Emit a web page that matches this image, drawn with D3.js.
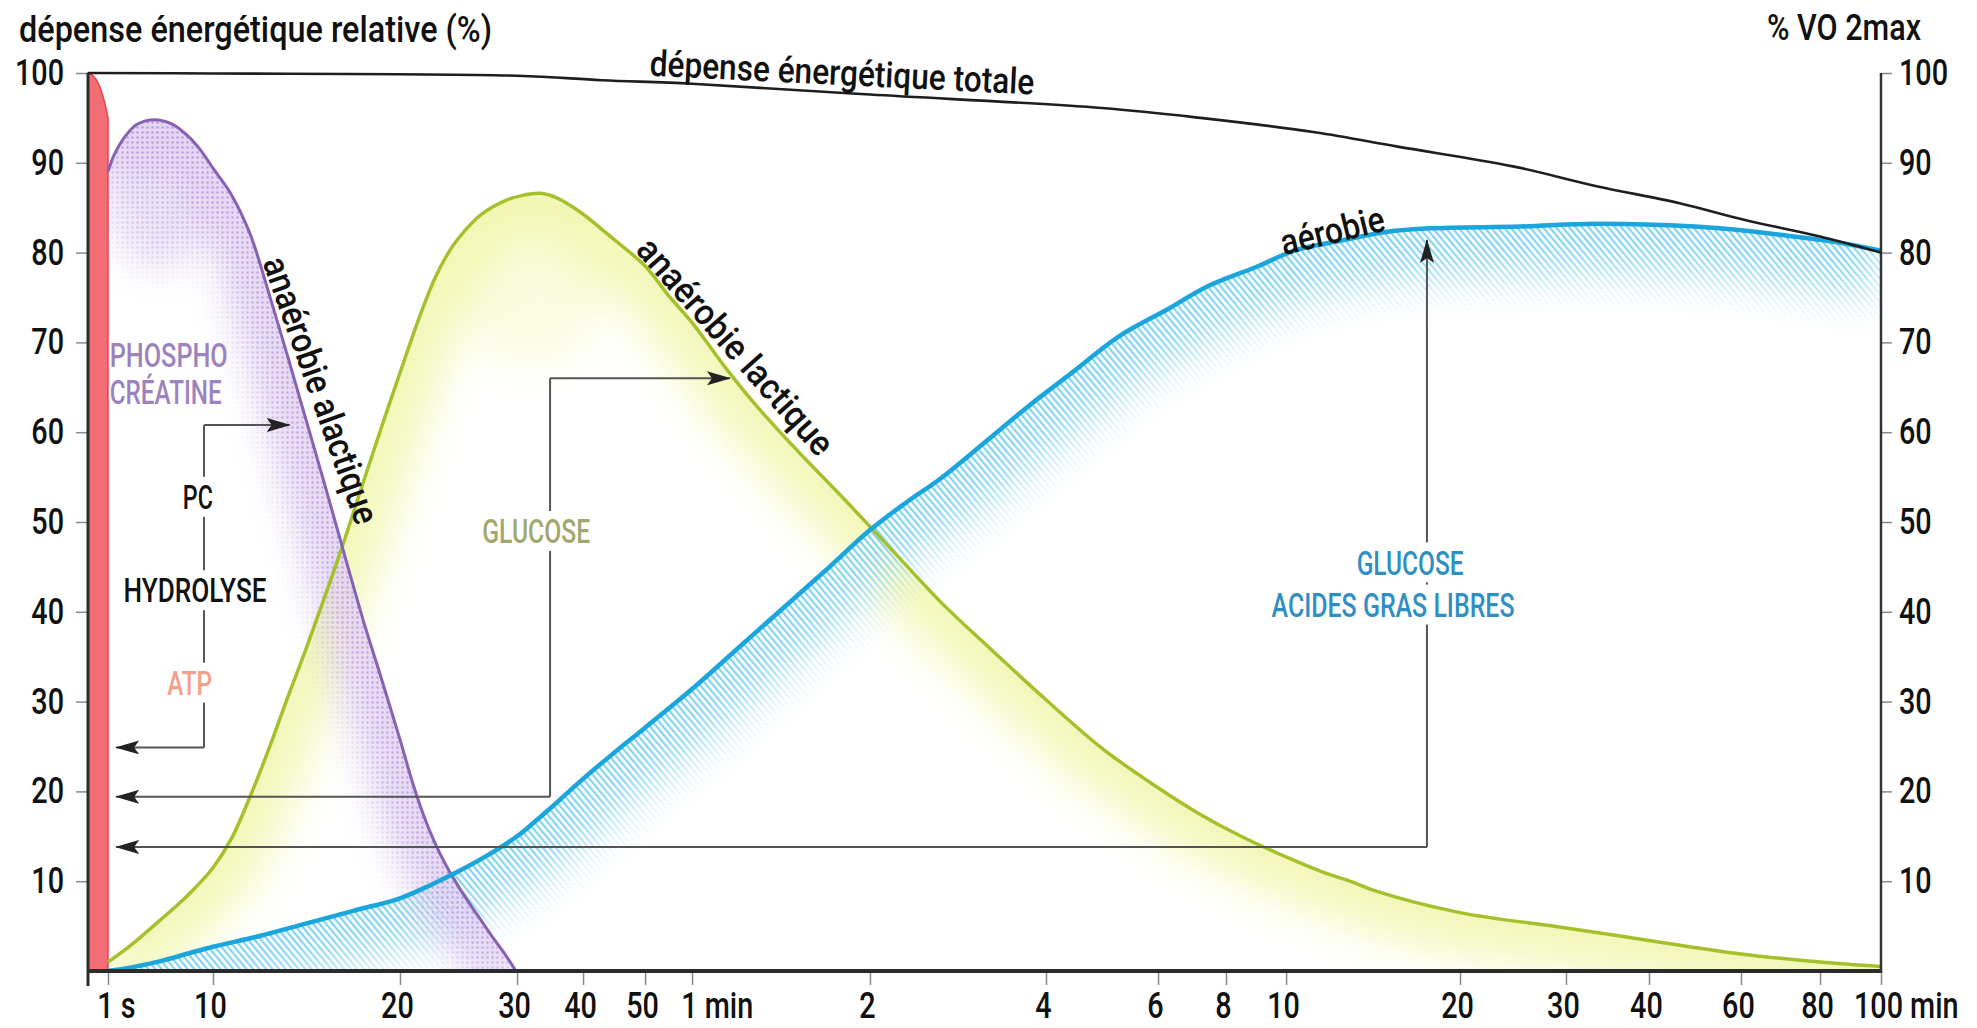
<!DOCTYPE html>
<html lang="fr">
<head>
<meta charset="utf-8">
<script src="https://cdn.jsdelivr.net/npm/d3@7/dist/d3.min.js"></script>
<style>
html,body{margin:0;padding:0;background:#fff;}
svg{display:block;}
text{font-family:Roboto,"DejaVu Sans",sans-serif;}
</style>
</head>
<body>
<svg id="chart" width="1977" height="1028"></svg>
<script>
// ---------------- data ----------------
// time axis (seconds) : break points of the non linear time scale
const timeBreaks = [0,1,10,20,30,40,50,60,120,240,360,480,600,1200,1800,2400,3600,4800,6000];
const timeTicks = [1,10,20,30,40,50,60,120,240,360,480,600,1200,1800,2400,3600,4800,6000];
const timeTickLabels = ["1","10","20","30","40","50","1","2","4","6","8","10","20","30","40","60","80","100"];
const timeTickUnits = ["s","","","","","","min","","","","","","","","","","","min"];
const leftTicks = [10,20,30,40,50,60,70,80,90,100];
const rightTicks = [10,20,30,40,50,60,70,80,90,100];

// [time (s), % of energy expenditure]
const atpSeries = [[0,100],[0.2,99.8],[0.4,99.3],[0.6,98.4],[0.8,97],[1,95]];
const pcSeries = [[1,89],[1.5,90.8],[2.5,93],[3.5,94.3],[5,94.8],[6.5,94.3],[8,92.8],[9,91.3],[10,89.4],[11,86.4],[12,82],[13,75.4],[14,68.4],[15,61.2],[16,54],[17,46.6],[18,39.3],[19,32.6],[20,25.8],[21,21.3],[22,17.4],[23,14.2],[24,11.6],[25,9.4],[26,7.4],[27,5.5],[28,3.6],[29,1.8],[29.9,0]];
const lactiqueSeries = [[1,1],[2.5,2.4],[4,4],[5.5,5.7],[7,7.4],[8.5,9.3],[10,11.5],[11,14.8],[12,19.5],[13,24.8],[14,30.5],[15,36],[16,41.8],[17,47.8],[18,54.2],[19,60.5],[20,66.6],[21,70.4],[22,74],[23,77.2],[24,79.7],[25,81.6],[27,84.3],[29,85.8],[31,86.4],[33.5,86.6],[36,86.1],[39.4,84.6],[44.4,81.8],[50,78.5],[55,75.2],[60,72.2],[71,67.3],[80,63.6],[90,59.9],[100,56.4],[110,53],[120,49.5],[140,46],[170,40.8],[200,36.2],[240,30.2],[300,24.8],[360,20.4],[430,17.6],[510,15],[600,12.7],[720,11.1],[830,9.9],[900,9],[1200,6.5],[1800,4.8],[2400,3.4],[3600,1.9],[4800,1.0],[6000,0.5]];
const aerobieSeries = [[1,0],[3,0.4],[5.5,1.1],[8,2],[10,2.7],[12.5,3.9],[15,5.3],[17.5,6.7],[20,8.1],[22.5,9.5],[25,11.1],[27.5,12.9],[30,15],[32.5,16.5],[35,18.1],[40,21.4],[45,24.3],[50,27.1],[60,31.4],[75,35.8],[90,40.2],[105,44.6],[120,49.1],[145,52.2],[167,54.7],[200,59.1],[228,62.9],[270,66.8],[317,70.6],[380,73.8],[446,76.2],[540,78.4],[636,80.3],[800,81.4],[944,82.3],[1097,82.7],[1537,82.9],[2020,83.2],[3000,82.9],[3600,82.5],[4400,81.8],[5200,81.1],[6000,80.2]];
const totaleSeries = [[0,100],[10,99.95],[30,99.7],[43,99.2],[60,98.8],[120,97.6],[300,96.1],[435,95],[700,93.4],[985,91.8],[1500,89.6],[2022,87.4],[2800,85.5],[3676,83.6],[4800,81.8],[6000,80]];

// annotation brackets : [x of vertical line (s), y top (%), top arrow tip (s) or null, y bottom (%), bottom arrow tip (s)]
const bracketPC = [9.23, 60.8, 14.1, 24.9, 1.7];
const bracketGlucose = [35, 66, 72.8, 19.4, 1.7];
const bracketAerobie = [1086, 81.4, null, 13.8, 1.7];

// texts
const curveLabels = [
  {text:"dépense énergétique totale", t:110.6, v:100.1, angle:2.8, w:385},
  {text:"anaérobie alactique", t:15.8, v:64.7, angle:70.5, w:281},
  {text:"anaérobie lactique", t:74.8, v:69.6, angle:48.5, w:277},
  {text:"aérobie", t:759, v:82.5, angle:-13.7, w:106}
];
const boxLabels = [
  {text:"PHOSPHO", t:1.15, v:68.6, anchor:"start", color:"#9d83bd", w:118},
  {text:"CRÉATINE", t:1.15, v:64.5, anchor:"start", color:"#9d83bd", w:112},
  {text:"PC", t:8.7, v:52.8, anchor:"middle", color:"#111", w:30, bg:true},
  {text:"HYDROLYSE", t:8.46, v:42.4, anchor:"middle", color:"#111", w:143, bg:true},
  {text:"ATP", t:8.0, v:32.1, anchor:"middle", color:"#f2a08c", w:45, bg:true},
  {text:"GLUCOSE", t:32.9, v:49, anchor:"middle", color:"#a2a770", w:108, bg:true},
  {text:"GLUCOSE", t:1028, v:45.5, anchor:"middle", color:"#2f8fc2", w:107, bg:true},
  {text:"ACIDES GRAS LIBRES", t:969, v:40.8, anchor:"middle", color:"#2f8fc2", w:243, bg:true}
];
const leftTitle = "dépense énergétique relative (%)";
const rightTitle = "% VO 2max";

// ---------------- layout ----------------
const W = 1977, H = 1028;
const frame = {left:88, right:1881, top:73, bottom:971};
const breakFrac = [0,0.01115,0.0697,0.1740,0.2393,0.2761,0.3107,0.3369,0.4361,0.5343,0.5968,0.6347,0.6682,0.7652,0.8243,0.8706,0.9219,0.9660,1];
const x = d3.scaleLinear().domain(timeBreaks).range(breakFrac.map(f => frame.left + f*(frame.right-frame.left)));
const y = d3.scaleLinear().domain([0,100]).range([frame.bottom, frame.top]);
const FS = 36;

const svg = d3.select("#chart");
const defs = svg.append("defs");

const smooth = d3.curveCatmullRom.alpha(0.5);
const lineGen = d3.line().x(d => x(d[0])).y(d => y(d[1])).curve(smooth);
const areaGen = d3.area().x(d => x(d[0])).y0(y(0)).y1(d => y(d[1])).curve(smooth);

function condense(sel, k){
  sel.each(function(){
    const L = this.getComputedTextLength();
    d3.select(this).attr("textLength", L*k).attr("lengthAdjust","spacingAndGlyphs");
  });
}

// patterns
const hatch = defs.append("pattern").attr("id","hatch").attr("patternUnits","userSpaceOnUse")
  .attr("width",5).attr("height",5).attr("patternTransform","rotate(-40)");
hatch.append("rect").attr("width",5).attr("height",5).attr("fill","#f2fbfe");
hatch.append("rect").attr("width",1.8).attr("height",5).attr("fill","#5cc5ee");

const dots = defs.append("pattern").attr("id","dots").attr("patternUnits","userSpaceOnUse")
  .attr("width",5).attr("height",5);
dots.append("rect").attr("width",5).attr("height",5).attr("fill","#e3d3f3");
dots.append("circle").attr("cx",2.5).attr("cy",2.5).attr("r",1.2).attr("fill","#b293da");

const plot = svg.append("g");

function bandFill(id, data, fill, bandWidth, blur, opacity, blob){
  defs.append("clipPath").attr("id","clip-"+id).append("path").attr("d", areaGen(data));
  const f = defs.append("filter").attr("id","blur-"+id).attr("filterUnits","userSpaceOnUse")
    .attr("x",0).attr("y",0).attr("width",W).attr("height",H);
  f.append("feGaussianBlur").attr("stdDeviation", blur);
  const m = defs.append("mask").attr("id","mask-"+id).attr("maskUnits","userSpaceOnUse")
    .attr("x",0).attr("y",0).attr("width",W).attr("height",H);
  const mg = m.append("g").attr("filter", `url(#blur-${id})`);
  mg.append("path").attr("d", lineGen(data)).attr("fill","none").attr("stroke","#fff")
    .attr("stroke-opacity", opacity).attr("stroke-width", bandWidth).attr("stroke-linejoin","round");
  if(blob){
    // extra glow under the peak of the curve
    const peak = d3.greatest(data, d => d[1]);
    mg.append("ellipse").attr("cx", x(peak[0]) + blob.dx).attr("cy", y(peak[1]) + blob.dy)
      .attr("rx", blob.rx).attr("ry", blob.ry).attr("fill","#fff").attr("fill-opacity", blob.o);
  }
  plot.append("g").attr("clip-path", `url(#clip-${id})`)
    .append("rect").attr("x",0).attr("y",0).attr("width",W).attr("height",H)
    .attr("fill", fill).attr("mask", `url(#mask-${id})`);
}

bandFill("green", lactiqueSeries, "#f0f5a2", 80, 22, 0.75, {dx:-10, dy:80, rx:80, ry:90, o:0.35});
bandFill("blue", aerobieSeries, "url(#hatch)", 100, 20, 0.85);
bandFill("purple", pcSeries, "url(#dots)", 80, 18, 0.85, {dx:5, dy:70, rx:55, ry:80, o:0.6});

// ATP column
plot.append("path").attr("d", areaGen(atpSeries)).attr("fill","#f26d74").attr("stroke","#e8404d").attr("stroke-width",1.5);

// curves
plot.append("path").attr("d", lineGen(lactiqueSeries)).attr("fill","none").attr("stroke","#a4c12c").attr("stroke-width",3.5);
plot.append("path").attr("d", lineGen(pcSeries)).attr("fill","none").attr("stroke","#8662b3").attr("stroke-width",3);
plot.append("path").attr("d", lineGen(aerobieSeries)).attr("fill","none").attr("stroke","#1aa5dc").attr("stroke-width",4.5);

// ---------------- axes ----------------
const gx = svg.append("g").attr("transform",`translate(0,${frame.bottom})`)
  .call(d3.axisBottom(x).tickValues(timeTicks).tickSize(14).tickPadding(7).tickSizeOuter(0)
    .tickFormat((d,i) => timeTickLabels[i]));
gx.select(".domain").remove();
gx.selectAll(".tick line").attr("stroke","#888").attr("stroke-width",1.5);
gx.selectAll(".tick text").attr("font-size",FS).attr("font-weight",500).attr("fill","#111").attr("x",-3).call(condense,0.8);
gx.selectAll(".tick").each(function(d,i){
  if(!timeTickUnits[i]) return;
  const t = d3.select(this).select("text");
  const w = +t.attr("textLength");
  d3.select(this).append("text").attr("x", -3 + w/2 + 7).attr("y", t.attr("y")).attr("dy", t.attr("dy"))
    .attr("text-anchor","start").attr("font-size",FS).attr("font-weight",500).attr("fill","#111")
    .text(timeTickUnits[i]).call(condense,0.8);
});

const gl = svg.append("g").attr("transform",`translate(${frame.left},0)`)
  .call(d3.axisLeft(y).tickValues(leftTicks).tickSize(12).tickPadding(12).tickSizeOuter(0));
gl.select(".domain").remove();
gl.selectAll(".tick line").attr("stroke","#888").attr("stroke-width",1.5);
gl.selectAll(".tick text").attr("font-size",FS).attr("font-weight",500).attr("fill","#111").call(condense,0.8);

const gr = svg.append("g").attr("transform",`translate(${frame.right},0)`)
  .call(d3.axisRight(y).tickValues(rightTicks).tickSize(11).tickPadding(7).tickSizeOuter(0));
gr.select(".domain").remove();
gr.selectAll(".tick line").attr("stroke","#888").attr("stroke-width",1.5);
gr.selectAll(".tick text").attr("font-size",FS).attr("font-weight",500).attr("fill","#111").call(condense,0.8);

// axis lines
svg.append("line").attr("x1",frame.left).attr("x2",frame.left).attr("y1",frame.top).attr("y2",frame.bottom+15)
  .attr("stroke","#2b2b2b").attr("stroke-width",3);
svg.append("line").attr("x1",frame.left-1).attr("x2",frame.right).attr("y1",frame.bottom).attr("y2",frame.bottom)
  .attr("stroke","#2b2b2b").attr("stroke-width",4);
svg.append("line").attr("x1",frame.right).attr("x2",frame.right).attr("y1",frame.top).attr("y2",frame.bottom+2)
  .attr("stroke","#333").attr("stroke-width",2.5);

// total expenditure line
svg.append("path").attr("d", lineGen(totaleSeries)).attr("fill","none").attr("stroke","#1e1e1e").attr("stroke-width",2.6);

// ---------------- annotations ----------------
defs.append("marker").attr("id","arrow").attr("markerUnits","userSpaceOnUse")
  .attr("viewBox","0 0 24 14").attr("refX",23).attr("refY",7).attr("markerWidth",24).attr("markerHeight",14)
  .attr("orient","auto")
  .append("path").attr("d","M0,0 L24,7 L0,14 L5,7 Z").attr("fill","#222");

const ann = svg.append("g").attr("fill","none").attr("stroke","#555").attr("stroke-width",2);
function bracket(b, upward){
  const [xl, top, tipTop, bot, tipBot] = b;
  ann.append("line").attr("x1",x(xl)).attr("x2",x(xl)).attr("y1",y(bot)).attr("y2",y(top))
    .attr("marker-end", upward ? "url(#arrow)" : null);
  if(tipTop !== null){
    ann.append("line").attr("x1",x(xl)).attr("x2",x(tipTop)).attr("y1",y(top)).attr("y2",y(top)).attr("marker-end","url(#arrow)");
  }
  ann.append("line").attr("x1",x(xl)).attr("x2",x(tipBot)).attr("y1",y(bot)).attr("y2",y(bot)).attr("marker-end","url(#arrow)");
}
bracket(bracketPC, false);
bracket(bracketGlucose, false);
bracket(bracketAerobie, true);

// box labels (with white background breaking the bracket lines)
const lab = svg.append("g");
boxLabels.forEach(l => {
  const g = lab.append("g").attr("transform",`translate(${x(l.t)},${y(l.v)})`);
  if(l.bg){
    const bx = l.anchor === "middle" ? -l.w/2 - 8 : -8;
    g.append("rect").attr("x",bx).attr("y",-20).attr("width",l.w+16).attr("height",40).attr("fill","#fff");
  }
  g.append("text").attr("text-anchor",l.anchor).attr("dy","0.36em").attr("font-size",34).attr("font-weight",500)
    .attr("fill",l.color).attr("textLength",l.w).attr("lengthAdjust","spacingAndGlyphs").text(l.text);
});

// labels along curves
curveLabels.forEach(l => {
  svg.append("text").attr("transform",`translate(${x(l.t)},${y(l.v)}) rotate(${l.angle})`)
    .attr("text-anchor","middle").attr("dy","0.36em").attr("font-size",FS).attr("font-weight",500).attr("fill","#111")
    .attr("textLength",l.w).attr("lengthAdjust","spacingAndGlyphs").text(l.text);
});

// axis titles
svg.append("text").attr("x",19).attr("y",42).attr("font-size",FS).attr("font-weight",500).attr("fill","#111")
  .attr("textLength",473).attr("lengthAdjust","spacingAndGlyphs").text(leftTitle);
svg.append("text").attr("x",1767).attr("y",40).attr("font-size",FS).attr("font-weight",500).attr("fill","#111")
  .attr("textLength",154).attr("lengthAdjust","spacingAndGlyphs").text(rightTitle);
</script>
</body>
</html>
